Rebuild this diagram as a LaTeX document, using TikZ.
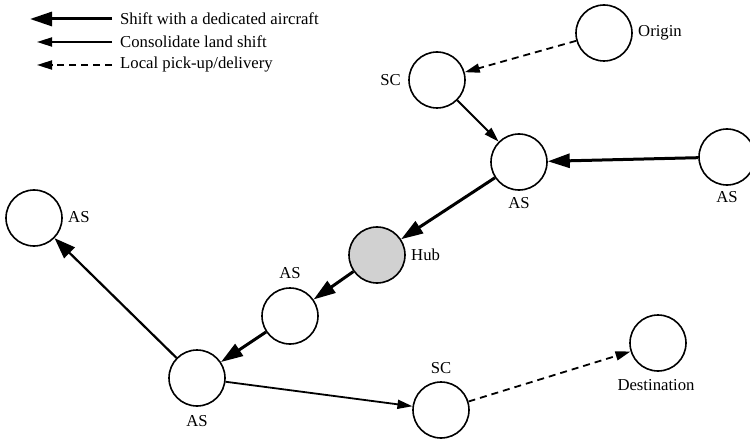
\documentclass[tikz,border=0pt]{standalone}
\usepackage{fontspec}
\setmainfont{Liberation Serif}
\usetikzlibrary{arrows.meta}
\begin{document}
\begin{tikzpicture}[x=1pt,y=-1pt,
  every node/.style={font=\fontsize{16.7}{20}\selectfont},
  st/.style={circle,draw,line width=1.6pt,minimum size=56pt,inner sep=0pt},
  lab/.style={inner sep=1pt},
  air/.style={line width=3pt,-{Triangle[length=22pt,width=14pt]}},
  land/.style={line width=1.8pt,-{Triangle[length=15pt,width=9pt]}},
  landbig/.style={line width=2.2pt,-{Triangle[length=21pt,width=15pt]}},
  loc/.style={line width=1.8pt,dash pattern=on 7pt off 5pt,-{Triangle[length=15pt,width=9pt]}}
]
\useasboundingbox (0,0) rectangle (750,441);
% legend
\node[lab,anchor=west] (l1) at (119,19) {Shift with a dedicated aircraft};
\node[lab,anchor=west] (l2) at (119,42) {Consolidate land shift};
\node[lab,anchor=west] (l3) at (119,65) {Local pick-up/delivery};
\coordinate (t1) at (30,19);
\coordinate (t2) at (37,42);
\coordinate (t3) at (37,65);
\draw[air] (l1.west) ++(-7,0) -- (t1);
\draw[land] (l2.west) ++(-7,0) -- (t2);
\draw[loc] (l3.west) ++(-7,0) -- (t3);
% stations
\node[st] (orig) at (604,33) {};
\node[st] (sc1) at (437,80) {};
\node[st] (as1) at (519,162) {};
\node[st] (as2) at (727,157) {};
\node[st,fill=black!18] (hub) at (377,255) {};
\node[st] (as3) at (290,316) {};
\node[st] (as4) at (197,378) {};
\node[st] (as5) at (34,218) {};
\node[st] (sc2) at (441,410) {};
\node[st] (dest) at (658,343) {};
% labels
\node[lab,anchor=west] (lo) at (637,33) {Origin};
\node[lab,anchor=east] (ls1) at (402,80) {SC};
\node[lab] (la1) at (519,203) {AS};
\node[lab] (la2) at (727,197) {AS};
\node[lab,anchor=west] (lh) at (410,255) {Hub};
\node[lab] (la3) at (290,273) {AS};
\node[lab] (la4) at (197,421) {AS};
\node[lab,anchor=west] (la5) at (67,217) {AS};
\node[lab] (ls2) at (441,368) {SC};
\node[lab] (ld) at (656,385) {Destination};
% connectors
\draw[loc] (orig) -- (sc1);
\draw[land] (sc1) -- (as1);
\draw[air] (as2) -- (as1);
\draw[air] (as1) -- (hub);
\draw[air] (hub) -- (as3);
\draw[air] (as3) -- (as4);
\draw[landbig] (as4) -- (as5);
\draw[land] (as4) -- (sc2);
\draw[loc] (sc2) -- (dest);
\end{tikzpicture}
\end{document}
